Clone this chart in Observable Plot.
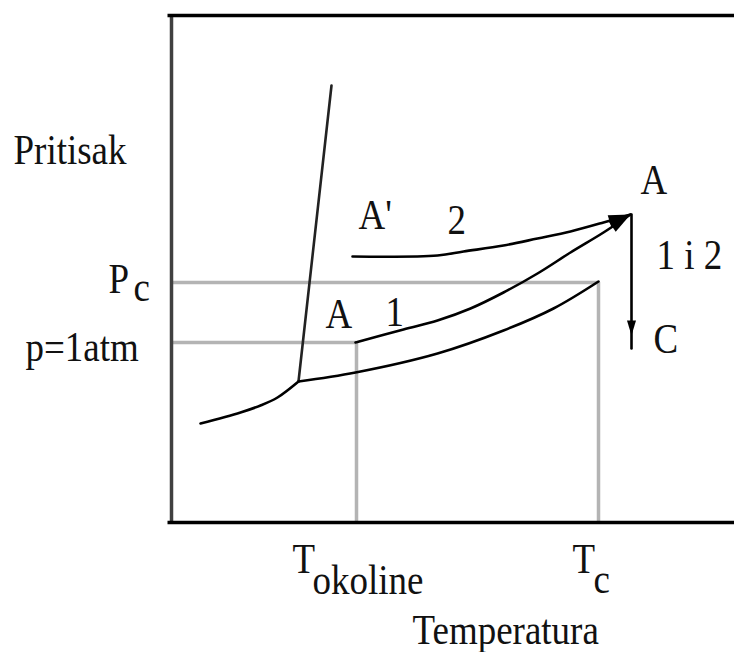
<!DOCTYPE html>
<html><head><meta charset="utf-8">
<script src="https://cdn.jsdelivr.net/npm/d3@7"></script>
<script src="https://cdn.jsdelivr.net/npm/@observablehq/plot@0.6"></script>
<style>body{margin:0;background:#fff}</style>
</head><body><div id="chart"></div>
<script>
// Phase diagram sketch (arbitrary units): T = temperatura, p = pritisak
const tDomain = [0, 112.6];
const pDomain = [0, 101.4];
const tOkoline = 37;
const tCritical = 85.4;
const pCritical = 48;
const pAtm = 36;

const sublimationCurve = [[5.8,19.8],[13.8,22],[17.8,23.4],[21.2,25],[25.4,28.2]];
const meltingCurve = [[25.4,28.2],[32,87.4]];
const vaporCurve = [[25.4,28.2],[36.8,30],[53.2,33.8],[66.4,38.4],[76.4,42.8],[85.4,48.2]];
const path1 = [[36.8,36],[46.4,38.6],[53.2,40.4],[59.8,42.8],[66.4,46],[73.2,49.8],[79.8,54],[86.4,58],[91.8,61.6]];
const path2 = [[36.2,53.2],[53.2,53.4],[58.4,54.2],[66.4,55.4],[73.2,56.8],[79.8,58.2],[86.4,60],[91.8,61.6]];
const pathDown = [[92,61.6],[92,37.4],[92,34.8]];

const labels = [
  {text:"Pritisak", T:-31.6, p:71.8},
  {text:"P", T:-12.6, p:46},
  {text:"c", T:-7.6, p:44.4},
  {text:"p=1atm", T:-29.2, p:32.4},
  {text:"T", T:24.2, p:-10},
  {text:"okoline", T:28.2, p:-14.2},
  {text:"T", T:80.2, p:-10},
  {text:"c", T:84.4, p:-14},
  {text:"Temperatura", T:48.2, p:-24.2},
  {text:"A", T:93.8, p:65.8},
  {text:"1 i 2", T:97, p:50.8},
  {text:"C", T:96.4, p:34},
  {text:"A'", T:37.4, p:58.8},
  {text:"2", T:55.2, p:57.8},
  {text:"A", T:30.8, p:39},
  {text:"1", T:42.8, p:39.4}
];

const pts = a => a.map(([T, p]) => ({T, p}));

function headMarker(len, half) {
  return (color, context) => {
    const doc = (context && context.document) || document;
    const ns = "http://www.w3.org/2000/svg";
    const m = doc.createElementNS(ns, "marker");
    m.setAttribute("viewBox", `${-len-1} ${-half-1} ${len+2} ${2*half+2}`);
    m.setAttribute("markerWidth", len+2);
    m.setAttribute("markerHeight", 2*half+2);
    m.setAttribute("markerUnits", "userSpaceOnUse");
    m.setAttribute("orient", "auto");
    m.setAttribute("fill", color);
    m.setAttribute("stroke", "none");
    const p = doc.createElementNS(ns, "path");
    p.setAttribute("d", `M${-len},${-half}L0,0L${-len},${half}Z`);
    m.appendChild(p);
    return m;
  };
}

const guide = {stroke: "#b4b4b4", strokeWidth: 3.5};
const curve = {x: "T", y: "p", stroke: "#000", strokeWidth: 2.6};

const chart = Plot.plot({
  width: 734,
  height: 652,
  marginLeft: 171,
  marginRight: 0,
  marginTop: 15,
  marginBottom: 130,
  x: {domain: tDomain, axis: null},
  y: {domain: pDomain, axis: null},
  style: {fontFamily: "'Liberation Serif', 'Times New Roman', serif", background: "#fff"},
  marks: [
    // guide lines
    Plot.ruleY([pCritical], {x1: tDomain[0], x2: tCritical, ...guide}),
    Plot.ruleY([pAtm], {x1: tDomain[0], x2: tOkoline, ...guide}),
    Plot.ruleX([tOkoline], {y1: pDomain[0], y2: pAtm, ...guide}),
    Plot.ruleX([tCritical], {y1: pDomain[0], y2: pCritical, ...guide}),
    // frame
    Plot.ruleX([tDomain[0]], {y1: pDomain[0], y2: pDomain[1], stroke: "#404040", strokeWidth: 3.5}),
    Plot.ruleY([pDomain[1]], {x1: -0.7, x2: tDomain[1], stroke: "#000", strokeWidth: 3.5}),
    Plot.ruleY([pDomain[0]], {x1: -0.7, x2: tDomain[1], stroke: "#000", strokeWidth: 3.5}),
    // phase curves
    Plot.line(pts(sublimationCurve), {...curve, curve: "catmull-rom"}),
    Plot.line(pts(meltingCurve), {...curve, stroke: "#222"}),
    Plot.line(pts(vaporCurve), {...curve, curve: "catmull-rom"}),
    // paths
    Plot.line(pts(path1), {...curve, curve: "catmull-rom", markerEnd: headMarker(22, 6)}),
    Plot.line(pts(path2), {...curve, curve: "catmull-rom", markerEnd: headMarker(22, 6)}),
    Plot.line(pts(pathDown), {...curve, markerMid: headMarker(15, 4.5)}),
    // labels
    Plot.text(labels, {x: "T", y: "p", text: "text", textAnchor: "start", lineAnchor: "bottom",
      fontSize: 37, fill: "#111", clip: false})
  ]
});

// stretch the labels vertically like the reference lettering
chart.querySelectorAll('g[aria-label="text"] text').forEach(t => {
  const x = +(t.getAttribute("x") || 0), y = +(t.getAttribute("y") || 0);
  t.removeAttribute("x"); t.removeAttribute("y");
  const tr = t.getAttribute("transform") || "";
  t.setAttribute("transform", `${tr} translate(${x},${y}) scale(1,1.12)`);
});
chart.style.overflow = "visible";
document.getElementById("chart").appendChild(chart);
</script>
</body></html>
